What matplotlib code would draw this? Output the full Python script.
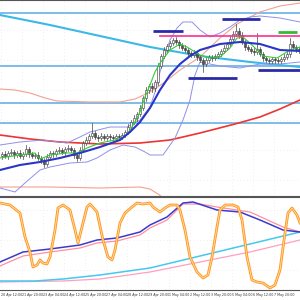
import matplotlib
matplotlib.use("Agg")
import matplotlib.pyplot as plt
import numpy as np
from matplotlib.patches import Rectangle

# ---- candles (close values, bar i drawn at x = 1.5 + 3*i) ----
closes = [46, 44, 47, 48, 45, 47, 44, 46, 51, 46,
          44, 45, 42, 40, 36, 43, 47, 46, 49, 50,
          48, 51, 52, 50, 45, 42, 50, 57, 60, 64,
          67, 63, 62, 64, 62, 64, 63, 62, 64, 63,
          65, 68, 73, 78, 82, 86, 92, 102, 110, 114,
          112, 118, 134, 144, 150, 154, 157, 160, 158, 155,
          152, 150, 147, 145, 147, 143, 140, 136, 140, 143,
          142, 144, 146, 149, 152, 156, 161, 166, 169, 165,
          158, 153, 151, 149, 148, 151, 146, 142, 140, 139,
          141, 140, 139, 141, 143, 146, 156, 153, 151, 149]
wick_up = [2, 3, 2, 3, 2, 2, 3, 2, 4, 2,
           2, 2, 3, 2, 2, 3, 2, 2, 2, 3,
           2, 2, 3, 2, 2, 2, 3, 2, 3, 2,
           10, 2, 2, 3, 2, 2, 2, 2, 2, 2,
           2, 2, 3, 2, 3, 2, 3, 2, 3, 2,
           3, 2, 3, 2, 3, 2, 2, 2, 3, 2,
           2, 3, 2, 2, 3, 2, 2, 2, 3, 2,
           2, 2, 2, 2, 3, 2, 3, 3, 7, 3,
           3, 2, 2, 2, 3, 16, 2, 2, 2, 2,
           2, 2, 2, 2, 3, 2, 6, 3, 2, 2]
wick_dn = [3, 2, 3, 2, 3, 2, 2, 3, 2, 3,
           2, 2, 2, 3, 3, 2, 2, 3, 2, 2,
           2, 3, 2, 2, 3, 3, 2, 2, 2, 3,
           2, 2, 3, 2, 2, 2, 3, 2, 2, 2,
           2, 2, 2, 3, 2, 3, 2, 2, 3, 3,
           4, 3, 3, 2, 2, 3, 2, 2, 2, 3,
           2, 2, 3, 2, 2, 3, 2, 8, 2, 2,
           3, 2, 2, 2, 2, 2, 2, 2, 2, 3,
           2, 3, 2, 2, 3, 2, 2, 3, 2, 2,
           2, 3, 2, 2, 2, 2, 3, 2, 3, 2]

# ---- main panel lines (x pixel, value) ----
cyan_x = [0, 50, 100, 150, 200, 250, 300]
cyan_v = [185, 175, 164, 153, 144, 138, 133]
levels = [187, 134, 97, 77]

red_x = [0, 30, 60, 100, 140, 170, 200, 235, 260, 280, 300]
red_v = [65, 61, 58, 56, 57, 60, 67, 76, 83, 91, 100]

env_up_x = [0, 15, 30, 45, 57, 90, 120, 135, 150, 165, 180, 200, 220, 237, 260, 280, 300]
env_up_v = [111, 110, 107, 102, 99, 98, 98, 101, 108, 118, 130, 143, 162, 176, 188, 194, 197]
env_dn_x = [0, 50, 100, 140, 150, 158, 166]
env_dn_v = [13, 13, 12, 13, 11, 6, 0]

slow_x = [0, 20, 40, 60, 80, 100, 120, 130, 140, 150, 160, 170, 180, 190, 200, 210, 220, 240, 260, 280, 300]
slow_v = [30, 35, 38, 42, 47, 53, 60, 68, 78, 92, 110, 125, 136, 144, 150, 153, 156, 158, 156, 150, 149]

fast_x = [0, 20, 35, 40, 50, 67, 77, 87, 100, 115, 125, 130, 135, 140, 145, 150, 155, 160,
          170, 180, 187, 200, 210, 220, 230, 237, 243, 253, 263, 277, 290, 300]
fast_v = [42, 45, 47, 41, 45, 47, 47, 52, 57, 60, 63, 70, 78, 88, 103, 115, 128, 137,
          150, 156, 153, 145, 142, 143, 152, 162, 163, 154, 144, 142, 150, 153]

bb_up_x = [0, 20, 43, 67, 80, 90, 110, 127, 140, 150, 155, 160, 165, 170, 177, 183, 192,
           200, 210, 220, 230, 240, 250, 260, 280, 300]
bb_up_v = [55, 58, 60, 57, 63, 68, 73, 73, 80, 93, 108, 128, 145, 160, 172, 178, 178,
           170, 163, 167, 173, 180, 183, 184, 182, 178]
bb_dn_x = [0, 15, 25, 40, 50, 70, 87, 97, 110, 123, 135, 145, 150, 163, 175, 183, 190,
           195, 200, 220, 240, 260, 280, 300]
bb_dn_v = [12, 8, 17, 30, 33, 37, 38, 42, 50, 55, 53, 48, 45, 45, 62, 80, 100,
           125, 138, 134, 132, 136, 136, 138]

# drawn horizontal levels: (x0, x1, value)
blue_bars = [(153, 183, 169), (222, 260, 181), (188, 237, 122), (258, 300, 130)]
green_bar = (278, 297, 168)
magenta_line = (160, 300, 164)

# ---- oscillator panel ----
osc_x = [0, 10, 20, 25, 30, 33, 37, 40, 43, 47, 50, 55, 58, 63, 70, 75, 78, 82, 87, 90,
         97, 103, 108, 112, 115, 120, 125, 132, 137, 143, 150, 153, 160, 165, 170, 177,
         180, 185, 190, 197, 203, 208, 212, 217, 220, 225, 233, 238, 242, 247, 252, 257,
         263, 270, 275, 280, 285, 288, 292, 297, 300]
osc_v = [87, 85, 77, 53, 38, 23, 25, 30, 27, 26, 33, 60, 82, 85, 80, 60, 47, 63, 83, 86,
         78, 50, 33, 30, 40, 67, 77, 83, 87, 86, 87, 83, 78, 82, 85, 85,
         80, 60, 33, 18, 12, 15, 33, 63, 80, 85, 85, 83, 70, 33, 10, 8,
         7, 2, 5, 20, 57, 77, 82, 75, 67]
sig_x = [0, 23, 50, 80, 97, 117, 140, 150, 167, 183, 193, 217, 240, 260, 283, 300]
sig_v = [28, 38, 41, 45, 50, 52, 58, 65, 73, 87, 88, 80, 78, 70, 60, 58]
sig2_x = [0, 23, 50, 80, 97, 117, 140, 150, 167, 183, 200, 217, 250, 283, 300]
sig2_v = [24, 34, 38, 42, 47, 49, 55, 62, 70, 86, 86, 83, 78, 63, 58]
lc_x = [0, 35, 63, 100, 150, 200, 250, 300]
lc_v = [9, 9, 11, 15, 22, 34, 46, 58]
lp_x = [0, 63, 100, 150, 200, 250, 300]
lp_v = [8, 9, 11, 18, 28, 38, 50]

tick_x = [1, 22, 43, 64, 85, 106, 127, 148, 169, 190, 211, 232, 253, 274]
tick_labels = ["20 Apr 12:00", "21 Apr 20:00", "23 Apr 04:00", "24 Apr 12:00", "25 Apr 20:00",
               "27 Apr 04:00", "28 Apr 12:00", "29 Apr 20:00", "1 May 04:00", "2 May 12:00",
               "3 May 20:00", "5 May 04:00", "6 May 12:00", "7 May 20:00"]

# =========================
fig = plt.figure(figsize=(3, 3), dpi=100)
ax = fig.add_axes([0, 104 / 300, 1, 196 / 300])
ax2 = fig.add_axes([0, 10 / 300, 1, 93 / 300])

for a in (ax, ax2):
    a.set_xlim(0, 300)
    a.set_xticks(tick_x)
    a.tick_params(length=0, labelbottom=False, labelleft=False)
    a.grid(True, color='#cfcfcf', lw=0.4, linestyle=(0, (1, 5)))
    a.spines['left'].set_visible(False)
    a.spines['right'].set_visible(False)
    for s in ('top', 'bottom'):
        a.spines[s].set_color('#555555')
        a.spines[s].set_linewidth(0.8)
ax.set_ylim(4, 200)
ax.set_yticks([20, 50, 80, 110, 140, 170])
ax2.set_ylim(0, 93)
ax2.set_yticks([20, 50, 80])

# levels and long lines
for lv in levels:
    ax.axhline(lv, color='#5aaae6', lw=1.1, zorder=1)
ax.plot(cyan_x, cyan_v, color='#3cb8e8', lw=1.5, zorder=2)
ax.plot(env_up_x, env_up_v, color='#f4a090', lw=0.8, zorder=2)
ax.plot(env_dn_x, env_dn_v, color='#f4a090', lw=0.8, zorder=2)
ax.plot(red_x, red_v, color='#ee3333', lw=1.2, zorder=2)
ax.plot(bb_up_x, bb_up_v, color='#9090e8', lw=0.7, zorder=2)
ax.plot(bb_dn_x, bb_dn_v, color='#9090e8', lw=0.7, zorder=2)

# candles
opens = [closes[0] - 2] + closes[:-1]
for i, (o, c) in enumerate(zip(opens, closes)):
    x = 1.5 + 3 * i
    hi = max(o, c) + wick_up[i]
    lo = min(o, c) - wick_dn[i]
    ax.plot([x, x], [lo, hi], color='#444444', lw=0.5, zorder=3)
    fc = 'white' if c >= o else '#555555'
    ax.add_patch(Rectangle((x - 1, min(o, c)), 2, max(abs(c - o), 0.6),
                           facecolor=fc, edgecolor='#333333', lw=0.4, zorder=4))

ax.plot(fast_x, fast_v, color='#33cc33', lw=0.8, zorder=5)
ax.plot(slow_x, slow_v, color='#2b35c8', lw=1.5, zorder=5)

for x0, x1, v in blue_bars:
    ax.plot([x0, x1], [v, v], color='#2a2aa8', lw=2, solid_capstyle='butt', zorder=6)
ax.plot(green_bar[:2], [green_bar[2]] * 2, color='#33bb33', lw=2, solid_capstyle='butt', zorder=6)
ax.plot(magenta_line[:2], [magenta_line[2]] * 2, color='#ff2d95', lw=1.2, zorder=6)

# oscillator
ax2.plot(lp_x, lp_v, color='#ff9fc0', lw=0.9)
ax2.plot(lc_x, lc_v, color='#44c8f0', lw=1.1)
ax2.plot(sig2_x, sig2_v, color='#ff8fa0', lw=0.9)
ax2.plot(sig_x, sig_v, color='#3a3acc', lw=1.1)
ax2.plot(osc_x, osc_v, color='#ff9922', lw=2.0)
ax2.plot(osc_x, osc_v, color='#ffe0b0', lw=0.6)

for x, lab in zip(tick_x, tick_labels):
    fig.text(x / 300, 5 / 300, lab, fontsize=2.3, color='#333333', ha='left', va='center')

fig.savefig('out.png', dpi=100)
